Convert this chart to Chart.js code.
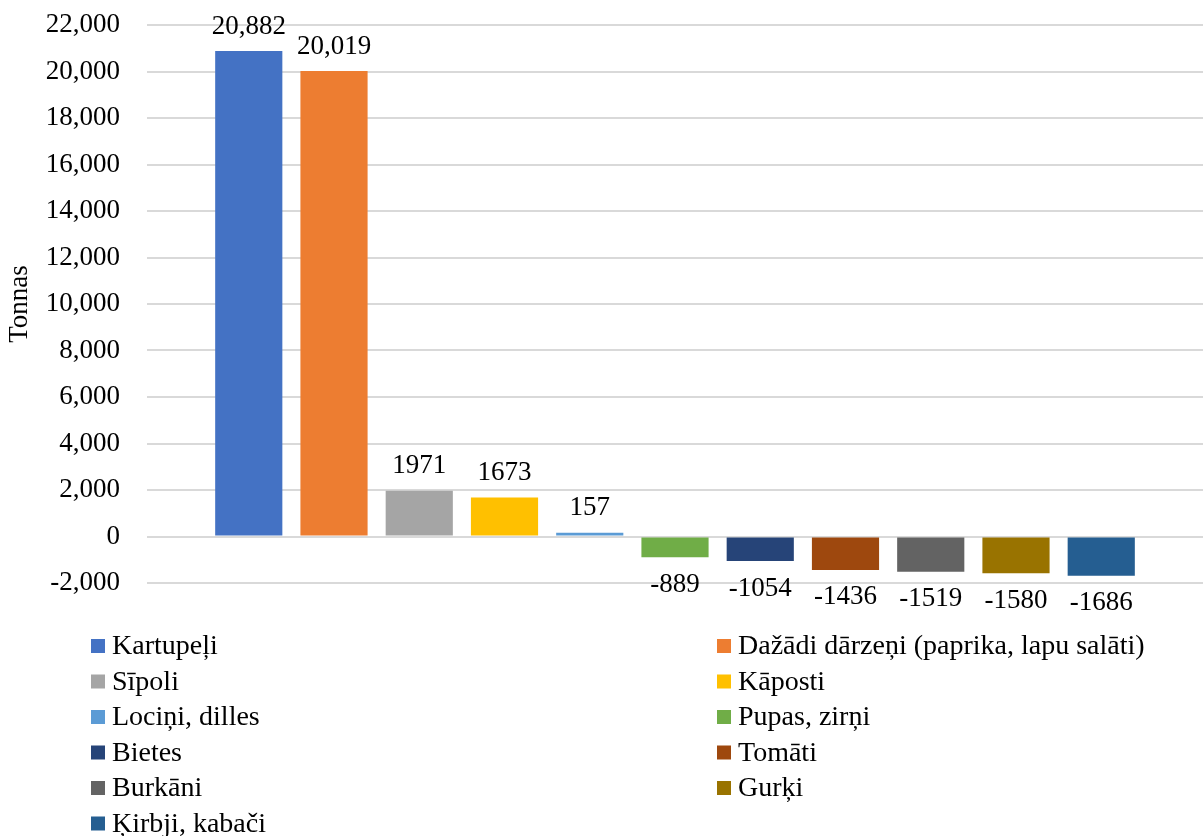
<!DOCTYPE html>
<html>
<head>
<meta charset="utf-8">
<script src="https://cdn.jsdelivr.net/npm/chart.js@4"></script>
<style>
html,body{margin:0;padding:0;background:#fff;}
canvas{display:block;}
</style>
</head>
<body>
<canvas id="c" width="1203" height="836"></canvas>
<script>
const seriesNames = ["Kartupeļi","Dažādi dārzeņi (paprika, lapu salāti)","Sīpoli","Kāposti","Lociņi, dilles","Pupas, zirņi","Bietes","Tomāti","Burkāni","Gurķi","Ķirbji, kabači"];
const seriesValues = [20882, 20019, 1971, 1673, 157, -889, -1054, -1436, -1519, -1580, -1686];
const valueLabels = ["20,882","20,019","1971","1673","157","-889","-1054","-1436","-1519","-1580","-1686"];
const seriesColors = ["#4472C4","#ED7D31","#A5A5A5","#FFC000","#5B9BD5","#70AD47","#264478","#9E480E","#636363","#997300","#255E91"];
const yMin = -2000, yMax = 22000, yStep = 2000;
const FONT = "'Liberation Serif', 'Times New Roman', serif";

const datasets = seriesNames.map((n,i)=>({
  label:n, data:[seriesValues[i]], backgroundColor:seriesColors[i], borderWidth:0,
  categoryPercentage:0.888, barPercentage:0.788
}));

const labelPlugin = {
  id:'vlabels',
  afterDatasetsDraw(chart){
    const ctx = chart.ctx;
    ctx.save();
    ctx.font = "27px " + FONT;
    ctx.fillStyle = "#000";
    ctx.textAlign = "center";
    chart.data.datasets.forEach((ds,i)=>{
      const el = chart.getDatasetMeta(i).data[0];
      const v = ds.data[0];
      if (v >= 0) { ctx.textBaseline = "bottom"; ctx.fillText(valueLabels[i], el.x, el.y - 11); }
      else { ctx.textBaseline = "top"; ctx.fillText(valueLabels[i], el.x, el.y + 14); }
    });
    ctx.restore();
  }
};

const legendPlugin = {
  id:'gridLegend',
  afterDraw(chart){
    const ctx = chart.ctx;
    ctx.save();
    ctx.font = "28px " + FONT;
    ctx.textBaseline = "middle";
    ctx.textAlign = "left";
    chart.data.datasets.forEach((ds,i)=>{
      const col = i % 2, row = Math.floor(i/2);
      const x = col ? 717 : 91;
      const y = 646 + row*35.5;
      ctx.fillStyle = ds.backgroundColor;
      ctx.fillRect(x, y-7, 14, 14);
      ctx.fillStyle = "#000";
      ctx.fillText(ds.label, x + 21, y + 1);
    });
    ctx.restore();
  }
};

new Chart(document.getElementById('c'), {
  type:'bar',
  data:{ labels:[""], datasets },
  options:{
    responsive:false, animation:false,
    layout:{ padding:{ top:25, bottom:253, left:0, right:-5 } },
    plugins:{ legend:{display:false}, tooltip:{enabled:false} },
    scales:{
      x:{ display:false },
      y:{
        min:yMin, max:yMax,
        border:{display:false},
        grid:{ color:"#d9d9d9", lineWidth:2, drawTicks:false },
        ticks:{ stepSize:yStep, padding:27, color:"#000", font:{family:FONT, size:27} },
        title:{ display:true, text:"Tonnas", color:"#000", font:{family:FONT, size:27}, padding:{top:4,bottom:0} },
        afterFit(scale){ scale.width = 147; scale.paddingTop = 0; scale.paddingBottom = 0; }
      }
    }
  },
  plugins:[labelPlugin, legendPlugin]
});
</script>
</body>
</html>
